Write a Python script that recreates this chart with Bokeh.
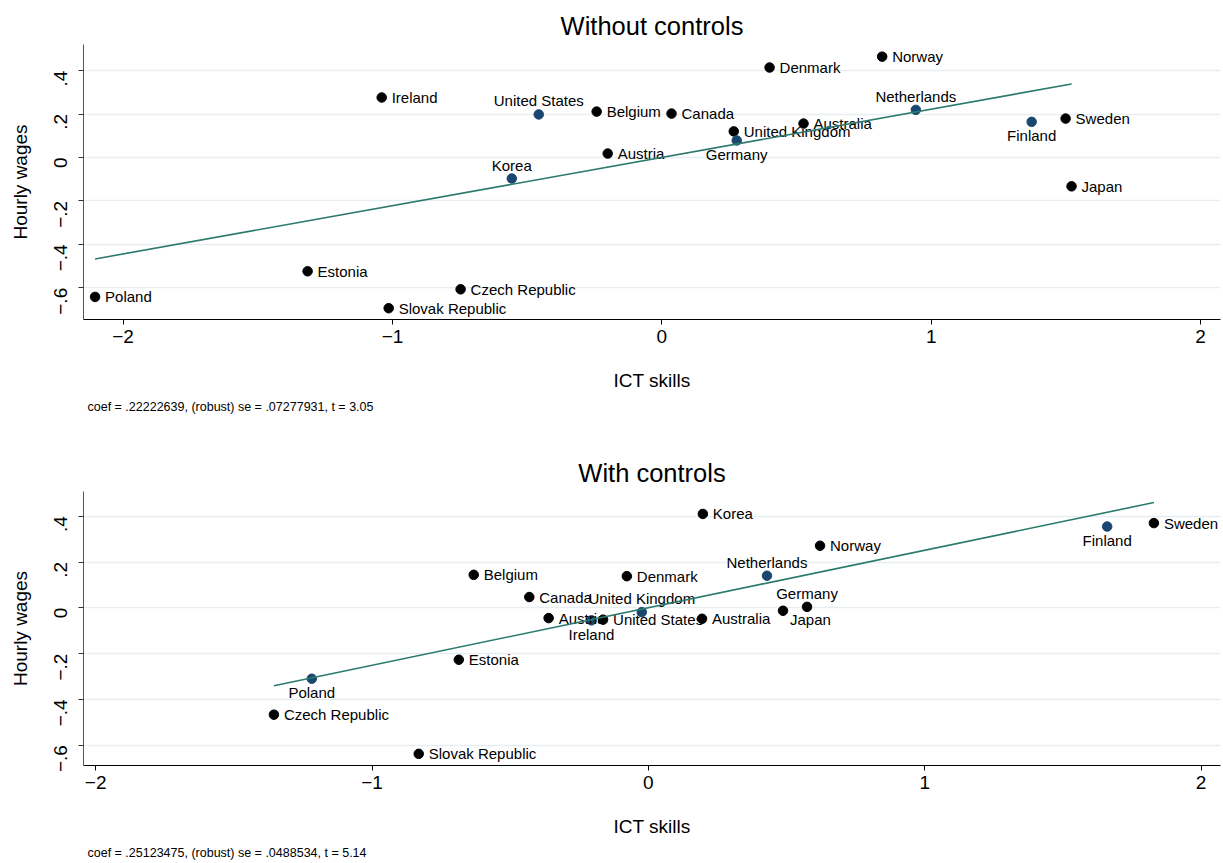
import math
import numpy as np
from bokeh.plotting import figure
from bokeh.models import ColumnDataSource, LabelSet, FixedTicker, Title, Range1d
from bokeh.layouts import column
from bokeh.core.properties import value
from bokeh.embed import file_html
from bokeh.resources import INLINE

FONT = "Liberation Sans"
NAVY = "#1a476f"
FITCOL = "#2b7a6e"
GRIDCOL = "#e6eef1"

# ---------------- data: panel 1 (without controls) ----------------
title_top = "Without controls"
countries_top = ["Poland", "Estonia", "Czech Republic", "Slovak Republic", "Ireland",
                 "United States", "Korea", "Belgium", "Austria", "Canada",
                 "United Kingdom", "Germany", "Denmark", "Australia", "Norway",
                 "Netherlands", "Finland", "Sweden", "Japan"]
ict_top = [-2.104, -1.315, -0.747, -1.014, -1.040, -0.457, -0.557, -0.242, -0.201, 0.036,
           0.267, 0.278, 0.400, 0.526, 0.818, 0.943, 1.373, 1.499, 1.521]
wage_top = [-0.642, -0.524, -0.607, -0.694, 0.276, 0.198, -0.097, 0.211, 0.018, 0.202,
            0.120, 0.078, 0.414, 0.156, 0.464, 0.219, 0.164, 0.179, -0.133]
highlight_top = [0, 0, 0, 0, 0, 1, 1, 0, 0, 0, 0, 1, 0, 0, 0, 1, 1, 0, 0]
labelpos_top = [3, 3, 3, 3, 3, 12, 12, 3, 3, 3, 3, 6, 3, 3, 3, 12, 6, 3, 3]
coef_top = 0.22222639
note_top = "coef = .22222639, (robust) se = .07277931, t = 3.05"

# ---------------- data: panel 2 (with controls) ----------------
title_bot = "With controls"
countries_bot = ["Poland", "Czech Republic", "Slovak Republic", "Estonia", "Belgium",
                 "Canada", "Austria", "Ireland", "United States", "United Kingdom",
                 "Denmark", "Korea", "Australia", "Netherlands", "Japan", "Germany",
                 "Norway", "Finland", "Sweden"]
ict_bot = [-1.218, -1.355, -0.831, -0.686, -0.632, -0.431, -0.361, -0.206, -0.164, -0.024,
           -0.078, 0.197, 0.194, 0.429, 0.487, 0.574, 0.621, 1.660, 1.829]
wage_bot = [-0.310, -0.467, -0.638, -0.227, 0.144, 0.047, -0.045, -0.055, -0.052, -0.019,
            0.138, 0.410, -0.048, 0.140, -0.013, 0.004, 0.271, 0.355, 0.370]
highlight_bot = [1, 0, 0, 0, 0, 0, 0, 1, 0, 1, 0, 0, 0, 1, 0, 0, 0, 1, 0]
labelpos_bot = [6, 3, 3, 3, 3, 3, 3, 6, 3, 12, 3, 3, 3, 12, 4, 12, 3, 6, 3]
coef_bot = 0.25123475
note_bot = "coef = .25123475, (robust) se = .0488534, t = 5.14"

x_ticks = [-2, -1, 0, 1, 2]
x_tick_labels = ["\u22122", "\u22121", "0", "1", "2"]
y_ticks = [-0.6, -0.4, -0.2, 0, 0.2, 0.4]
y_tick_labels = ["\u2212.6", "\u2212.4", "\u2212.2", "0", ".2", ".4"]
x_title = "ICT skills"
y_title = "Hourly wages"

# label placement (clock position) -> offsets
POS = {
    3: dict(x_offset=10, y_offset=0, text_align="left", text_baseline="middle"),
    12: dict(x_offset=0, y_offset=8, text_align="center", text_baseline="alphabetic"),
    6: dict(x_offset=0, y_offset=-19.5, text_align="center", text_baseline="alphabetic"),
    4: dict(x_offset=7, y_offset=-9, text_align="left", text_baseline="middle"),
}


def panel(title, countries, xs, ys, hl, lpos, coef, note, xr, yr, height, bottom_border):
    p = figure(width=1223, height=height, output_backend="svg", toolbar_location=None,
               x_range=Range1d(*xr), y_range=Range1d(*yr),
               min_border_left=83, min_border_right=3, min_border_top=44,
               min_border_bottom=bottom_border)
    p.outline_line_color = None
    p.background_fill_color = "white"
    p.border_fill_color = "white"

    p.title.text = title
    p.title.align = "center"
    p.title.offset = -4
    p.title.text_font = FONT
    p.title.text_font_size = "25.5px"
    p.title.text_font_style = "normal"
    p.title.text_color = "black"
    p.title.standoff = 10

    for ax in (p.xaxis[0], p.yaxis[0]):
        ax.major_label_text_font = FONT
        ax.major_label_text_font_size = "19px"
        ax.major_label_text_color = "black"
        ax.axis_label_text_font = FONT
        ax.axis_label_text_font_size = "19px"
        ax.axis_label_text_font_style = "normal"
        ax.axis_label_text_color = "black"
        ax.minor_tick_line_color = None
        ax.major_tick_in = 0
        ax.major_tick_out = 5
    xa = p.xaxis[0]
    xa.ticker = FixedTicker(ticks=x_ticks)
    xa.major_label_overrides = {t: l for t, l in zip(x_ticks, x_tick_labels)}
    xa.axis_label = x_title
    xa.axis_line_color = "black"
    xa.major_tick_line_color = "black"
    xa.major_label_standoff = 5
    xa.axis_label_standoff = 24

    ya = p.yaxis[0]
    ya.ticker = FixedTicker(ticks=y_ticks)
    ya.major_label_overrides = {t: l for t, l in zip(y_ticks, y_tick_labels)}
    ya.major_label_orientation = math.pi / 2
    ya.axis_label = y_title
    ya.axis_line_color = "#555555"
    ya.major_tick_line_color = "#333333"
    ya.major_label_standoff = 18
    ya.axis_label_standoff = 14

    p.xgrid.grid_line_color = None
    p.ygrid.ticker = FixedTicker(ticks=y_ticks)
    p.ygrid.grid_line_color = GRIDCOL
    p.ygrid.grid_line_width = 1.5

    colors = [NAVY if h else "black" for h in hl]
    src = ColumnDataSource(dict(x=xs, y=ys, name=countries, color=colors, pos=lpos))
    p.scatter("x", "y", source=src, marker="circle", size=9.5, fill_color="color",
              line_color="color")

    for k, opts in POS.items():
        idx = [i for i, v in enumerate(lpos) if v == k]
        if not idx:
            continue
        sub = ColumnDataSource(dict(x=[xs[i] for i in idx], y=[ys[i] for i in idx],
                                    name=[countries[i] for i in idx]))
        p.add_layout(LabelSet(x="x", y="y", text="name", source=sub,
                              text_font=value(FONT), text_font_size="15px",
                              text_color="black", **opts))

    # fitted line through the data (OLS slope reported in note)
    xa_ = np.array(xs)
    ya_ = np.array(ys)
    intercept = ya_.mean() - coef * xa_.mean()
    fx = [xa_.min(), xa_.max()]
    fy = [intercept + coef * v for v in fx]
    p.line(fx, fy, line_color=FITCOL, line_width=1.6, level="overlay")

    p.add_layout(Title(text=note, align="left", text_font=FONT, text_font_size="12.5px",
                       text_font_style="normal", text_color="black", offset=4, standoff=8),
                 "below")
    return p


p1 = panel(title_top, countries_top, ict_top, wage_top, highlight_top, labelpos_top,
           coef_top, note_top, (-2.147, 2.074), (-0.746, 0.52), 447, 128)
p2 = panel(title_bot, countries_bot, ict_bot, wage_bot, highlight_bot, labelpos_bot,
           coef_bot, note_bot, (-2.044, 2.070), (-0.689, 0.508), 416, 97)

layout = column(p1, p2, spacing=0)
open("out.html", "w").write(file_html(layout, INLINE))
